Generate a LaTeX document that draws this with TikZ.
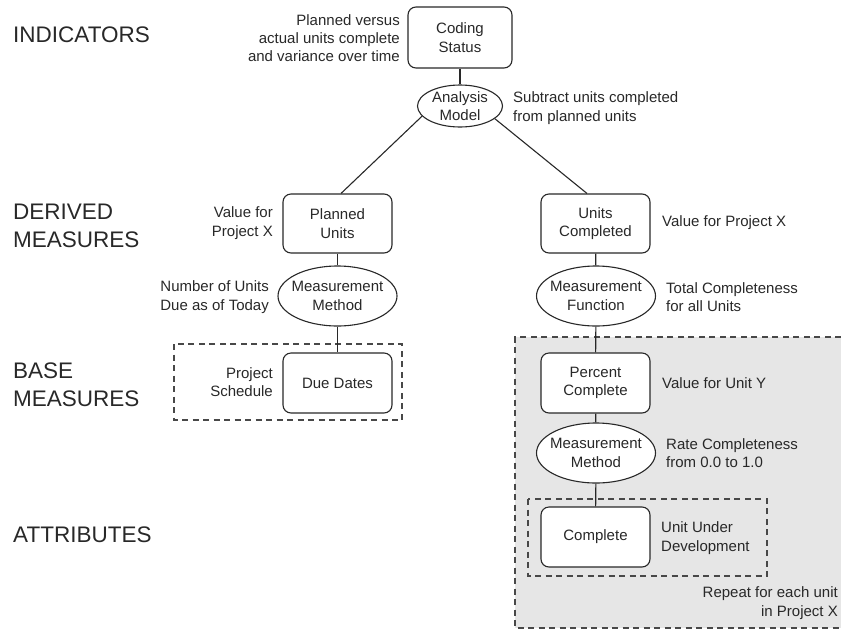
\documentclass[tikz,border=0pt]{standalone}
\usepackage{fontspec}
\setmainfont{Liberation Sans}
\usetikzlibrary{shapes.geometric}
\definecolor{ink}{RGB}{40,40,40}
\definecolor{greyfill}{RGB}{230,230,230}
\begin{document}
\begin{tikzpicture}[x=1pt,y=-1pt,
  every node/.style={text=ink, font=\fontsize{15}{18.3}\selectfont},
  boxnode/.style={draw=ink, line width=1.1pt, rounded corners=8pt, minimum width=109pt, minimum height=60pt, align=center, inner sep=0pt, fill=white},
  ellnode/.style={draw=ink, line width=1.1pt, ellipse, minimum width=119pt, minimum height=60pt, align=center, inner xsep=-4pt, inner ysep=-3pt, fill=white},
  lvl/.style={font=\fontsize{22.5}{27.5}\selectfont, align=left, anchor=west, inner sep=0pt},
  notel/.style={align=left, anchor=west, inner sep=0pt},
  noter/.style={align=right, anchor=east, inner sep=0pt},
  link/.style={draw=ink, line width=1.1pt},
  dashbox/.style={draw=ink!85, line width=1.1pt, dash pattern=on 6pt off 4.5pt}
]
\useasboundingbox (0,0) rectangle (841,630);

% shaded repeat region
\fill[fill=greyfill] (515,337) rectangle (841,628);
\draw[dashbox] (841,337) -- (515,337) -- (515,628) -- (841,628);
\draw[dashbox] (528,499) rectangle (767,576);
\draw[dashbox] (174,344) rectangle (402,420);

% level labels
\node[lvl] (l1) at (13,34.5) {INDICATORS};
\node[lvl] (l2) at (13,226) {DERIVED\\MEASURES};
\node[lvl] (l3) at (13,384.5) {BASE\\MEASURES};
\node[lvl] (l4) at (13,535) {ATTRIBUTES};

% main nodes
\node[boxnode, minimum width=104pt, minimum height=61pt] (cs) at (460,37.5) {Coding\\Status};
\node[ellnode, minimum width=85pt, minimum height=42pt] (am) at (460,106) {Analysis\\Model};
\node[boxnode, minimum height=59pt] (pu) at (337.5,223.5) {Planned\\Units};
\node[ellnode] (mm1) at (337.5,296) {Measurement\\Method};
\node[boxnode] (dd) at (337.5,383) {Due Dates};
\node[boxnode, minimum height=59pt] (uc) at (595.5,223.5) {Units\\Completed};
\node[ellnode] (mf) at (596,296) {Measurement\\Function};
\node[boxnode] (pc) at (595.5,383) {Percent\\Complete};
\node[ellnode] (mm2) at (596,453) {Measurement\\Method};
\node[boxnode] (cp) at (595.5,537) {Complete};

% connectors
\draw[link] (cs) -- (am);
\draw[link] (am.195) -- ([xshift=3.5pt]pu.north);
\draw[link] (am.340) -- ([xshift=-8.5pt]uc.north);
\draw[link] (pu) -- (mm1);
\draw[link] (mm1) -- (dd);
\draw[link] (uc) -- (mf);
\draw[link] (mf) -- (pc);
\draw[link] (pc) -- (mm2);
\draw[link] (mm2) -- (cp);

% annotations
\node[noter] (t1) at (400,38) {Planned versus\\actual units complete\\and variance over time};
\node[notel] (t2) at (513,108) {Subtract units completed\\from planned units};
\node[noter] (t3) at (273,223) {Value for\\Project X};
\node[noter] (t4) at (269,297) {Number of Units\\Due as of Today};
\node[noter] (t5) at (273,382) {Project\\Schedule};
\node[notel] (t6) at (662,223) {Value for Project X};
\node[notel] (t7) at (666,297) {Total Completeness\\for all Units};
\node[notel] (t8) at (662,383) {Value for Unit Y};
\node[notel] (t9) at (666,453) {Rate Completeness\\from 0.0 to 1.0};
\node[notel] (t10) at (661,538) {Unit Under\\Development};
\node[noter] (t11) at (838,603) {Repeat for each unit\\in Project X};
\end{tikzpicture}
\end{document}
